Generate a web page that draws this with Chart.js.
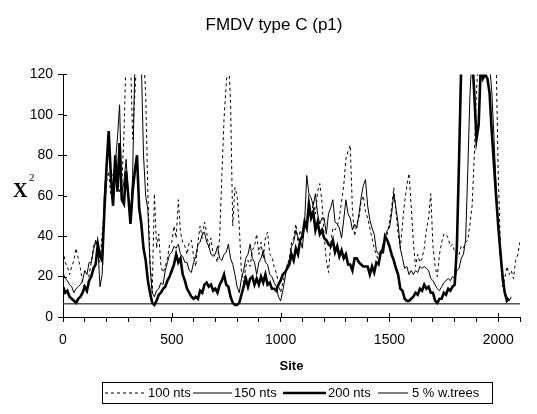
<!DOCTYPE html>
<html>
<head>
<meta charset="utf-8">
<script src="https://cdn.jsdelivr.net/npm/chart.js@4.4.1/dist/chart.umd.min.js"></script>
<style>
  html, body { margin: 0; padding: 0; background: #fff; }
  #wrap { width: 537px; height: 414px; }
</style>
</head>
<body>
<div id="wrap"><canvas id="chart" width="537" height="414"></canvas></div>
<script>
// chi-square along the genome, one value every 10 sites (values >120 run off the top)
const step = 10;
const siteRange = [0, 2100];
const yTicks = [0, 20, 40, 60, 80, 100, 120];
const treeLevel = 6.5;

const nts100 = [
  33, 27, 25, 21, 25, 28, 34, 29, 24, 17,
  14, 12, 21, 27, 35, 37, 30, 27, 41, 52,
  67, 72, 60, 57, 67, 69, 62, 65, 90, 130,
  130, 130, 88, 110, 130, 130, 130, 130, 110, 61,
  28, 12, 61, 34, 41, 25, 22, 25, 29, 36,
  37, 45, 39, 58, 42, 37, 35, 31, 37, 38,
  30, 25, 37, 45, 39, 47, 42, 34, 39, 31,
  30, 27, 40, 70, 98, 115, 130, 106, 45, 64,
  60, 45, 22, 17, 25, 28, 25, 33, 35, 41,
  31, 37, 29, 39, 42, 31, 30, 25, 22, 17,
  12, 17, 21, 25, 29, 37, 39, 46, 37, 43,
  39, 49, 44, 54, 49, 57, 51, 62, 66, 57,
  40, 28, 22, 36, 44, 43, 45, 49, 57, 65,
  78, 82, 85, 53, 40, 46, 49, 57, 60, 52,
  49, 44, 39, 34, 31, 27, 33, 34, 39, 41,
  47, 54, 64, 52, 41, 34, 46, 57, 65, 71,
  55, 37, 25, 31, 27, 29, 34, 43, 49, 61,
  35, 25, 20, 31, 37, 41, 41, 39, 35, 36,
  32, 33, 31, 35, 34, 37, 38, 46, 55, 80,
  112, 130, 130, 130, 130, 130, 130, 130, 130, 130,
  70, 35, 15, 19, 25, 21, 23, 19, 28, 31, 37
];

const nts150 = [
  22, 19, 18, 16, 15, 12, 14, 15, 16, 18,
  23, 21, 27, 27, 33, 38, 35, 15, 21, 61,
  75, 86, 71, 70, 76, 88, 105, 61, 67, 78,
  60, 48, 70, 125, 130, 130, 125, 80, 60, 53,
  25, 12, 10, 13, 14, 17, 16, 23, 27, 31,
  32, 35, 34, 36, 31, 30, 27, 27, 23, 22,
  27, 30, 36, 37, 41, 42, 37, 35, 31, 30,
  31, 35, 29, 28, 31, 32, 36, 29, 26, 21,
  15, 12, 19, 23, 29, 31, 36, 29, 27, 21,
  27, 29, 33, 27, 26, 21, 20, 17, 15, 10,
  8, 13, 19, 26, 27, 35, 37, 43, 39, 38,
  34, 46, 70, 61, 59, 55, 61, 51, 46, 49,
  49, 41, 51, 54, 58, 47, 46, 44, 39, 48,
  58, 51, 49, 43, 46, 44, 51, 59, 65, 68,
  55, 48, 44, 41, 33, 31, 31, 36, 39, 43,
  44, 51, 61, 54, 46, 34, 29, 24, 25, 21,
  23, 21, 23, 22, 25, 24, 25, 24, 23, 19,
  18, 16, 14, 13, 15, 17, 18, 19, 18, 20,
  19, 23, 24, 29, 31, 38, 72, 110, 130, 130,
  130, 130, 130, 130, 130, 130, 125, 112, 90, 65,
  45, 30, 18, 12, 10, 8, 10
];

const nts200 = [
  15, 12, 13, 10, 9, 8, 7, 9, 10, 12,
  15, 13, 18, 20, 24, 26, 36, 30, 28, 52,
  74, 92, 70, 55, 80, 62, 86, 58, 56, 72,
  60, 46, 62, 72, 80, 54, 46, 34, 28, 18,
  12, 7, 6, 8, 11, 12, 14, 15, 18, 20,
  23, 26, 31, 27, 29, 21, 18, 14, 12, 10,
  9, 10, 9, 13, 12, 16, 17, 15, 16, 13,
  14, 12, 16, 18, 21, 16, 15, 10, 7, 6,
  6, 7, 11, 15, 19, 15, 19, 20, 16, 19,
  16, 20, 17, 21, 16, 17, 14, 14, 13, 16,
  18, 21, 22, 24, 26, 31, 28, 34, 31, 38,
  40, 47, 44, 56, 49, 52, 43, 47, 41, 43,
  39, 38, 36, 35, 38, 32, 35, 30, 33, 29,
  31, 26, 26, 23, 29, 29, 27, 26, 25, 25,
  25, 21, 25, 22, 27, 26, 32, 32, 40, 38,
  35, 31, 28, 24, 21, 14, 13, 9, 8, 8,
  9, 10, 12, 11, 14, 13, 16, 14, 15, 12,
  12, 8, 7, 9, 9, 12, 11, 14, 13, 15,
  16, 35, 78, 125, 130, 130, 130, 130, 130, 110,
  88, 95, 125, 118, 120, 118, 111, 92, 76, 60,
  45, 32, 20, 12, 8, 9
];

const toPoints = vals => vals.map((v, i) => ({ x: i * step, y: v }));

const labelFont = '"Liberation Sans", Arial, sans-serif';

// legend order as in the picture
const legendOrder = ['100 nts', '150 nts', '200 nts', '5 % w.trees'];
const legendSlots = [
  { line: [105, 145], text: 148 },
  { line: [193, 232], text: 234 },
  { line: [283, 326], text: 328 },
  { line: [378, 408], text: 412 }
];

// y title, inner halves of tick marks, boxed legend
const extras = {
  id: 'extras',
  afterDraw(chart) {
    const ctx = chart.ctx;
    const area = chart.chartArea;
    const ys = chart.scales.y, xs = chart.scales.x;
    ctx.save();
    ctx.strokeStyle = '#000';
    ctx.lineWidth = 1;
    ys.ticks.forEach(t => {
      const py = Math.round(ys.getPixelForValue(t.value)) + 0.5;
      ctx.beginPath(); ctx.moveTo(area.left, py); ctx.lineTo(area.left + 4, py); ctx.stroke();
    });
    xs.ticks.forEach(t => {
      if (t.value % 500 !== 0) return;
      const px = Math.round(xs.getPixelForValue(t.value)) + 0.5;
      ctx.beginPath(); ctx.moveTo(px, area.bottom); ctx.lineTo(px, area.bottom - 4); ctx.stroke();
    });

    ctx.fillStyle = '#000';
    ctx.textBaseline = 'alphabetic';
    ctx.font = 'bold 20px "Liberation Serif", serif';
    ctx.fillText('X', 13, 197);
    ctx.font = '11px "Liberation Serif", serif';
    ctx.fillText('2', 29, 181);

    // legend
    ctx.strokeRect(102.5, 382.5, 390, 21);
    ctx.font = '13px ' + labelFont;
    ctx.textBaseline = 'middle';
    legendOrder.forEach((name, i) => {
      const ds = chart.data.datasets.find(d => d.label === name);
      const slot = legendSlots[i];
      ctx.save();
      ctx.strokeStyle = ds.borderColor;
      ctx.lineWidth = ds.borderWidth;
      ctx.setLineDash(ds.borderDash || []);
      ctx.beginPath(); ctx.moveTo(slot.line[0], 393); ctx.lineTo(slot.line[1], 393); ctx.stroke();
      ctx.restore();
      ctx.fillText(ds.label, slot.text, 393);
    });
    ctx.restore();
  }
};

new Chart(document.getElementById('chart'), {
  type: 'line',
  data: {
    datasets: [
      { label: '200 nts', data: toPoints(nts200), borderColor: '#000', borderWidth: 2.6 },
      { label: '150 nts', data: toPoints(nts150), borderColor: '#000', borderWidth: 1 },
      { label: '100 nts', data: toPoints(nts100), borderColor: '#000', borderWidth: 1, borderDash: [3, 3] },
      { label: '5 % w.trees', data: siteRange.map(s => ({ x: s, y: treeLevel })), borderColor: '#555', borderWidth: 1.5 }
    ]
  },
  options: {
    responsive: false,
    animation: false,
    elements: { point: { radius: 0 }, line: { tension: 0 } },
    layout: { padding: { left: 28, right: 17, top: 0, bottom: 37 } },
    plugins: {
      legend: { display: false },
      tooltip: { enabled: false },
      title: {
        display: true,
        text: 'FMDV type C (p1)',
        color: '#000',
        font: { family: labelFont, size: 17, weight: 'normal' },
        padding: { top: 15, bottom: 39 }
      }
    },
    scales: {
      x: {
        type: 'linear',
        min: siteRange[0],
        max: siteRange[1],
        afterFit: s => { s.height = 60; },
        border: { color: '#000', width: 1 },
        grid: { drawOnChartArea: false, color: '#000', tickLength: 5 },
        ticks: {
          stepSize: 100,
          autoSkip: false,
          maxRotation: 0,
          padding: 10,
          color: '#000',
          font: { family: labelFont, size: 14 },
          callback: v => (v % 500 === 0 ? String(v) : '')
        },
        title: {
          display: true,
          text: 'Site',
          color: '#000',
          font: { family: labelFont, size: 13, weight: 'bold' },
          padding: { top: 0, bottom: 3 }
        }
      },
      y: {
        min: 0,
        max: 120,
        afterFit: s => { s.width = 35; },
        afterBuildTicks: s => { s.ticks = yTicks.map(v => ({ value: v })); },
        border: { color: '#000', width: 1 },
        grid: { drawOnChartArea: false, color: '#000', tickLength: 5 },
        ticks: {
          padding: 5,
          color: '#000',
          font: { family: labelFont, size: 14 }
        }
      }
    }
  },
  plugins: [extras]
});
</script>
</body>
</html>
